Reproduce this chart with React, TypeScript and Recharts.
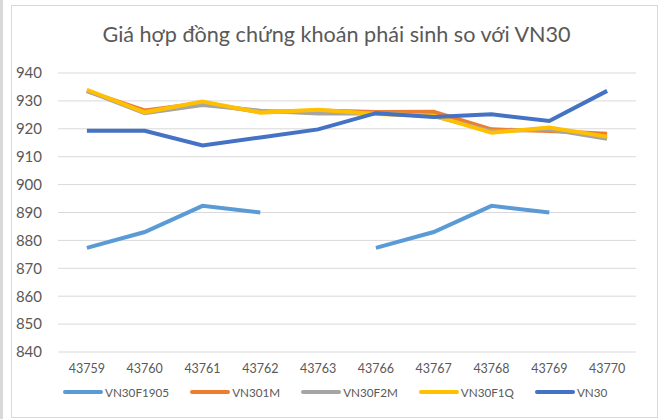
import { CartesianGrid, Legend, Line, LineChart, XAxis, YAxis } from 'recharts';

const dates = ['43759', '43760', '43761', '43762', '43763', '43766', '43767', '43768', '43769', '43770'];

const vn30f1905 = [877.3, 883, 892.4, 890, null, 877.3, 883, 892.4, 890, null];
const vn301m = [933.5, 926.6, 929.2, 926, 926.6, 926, 926.1, 919.8, 919.2, 918.2];
const vn30f2m = [933.6, 925.6, 928.5, 926.5, 925.5, 925.5, 924.6, 919.1, 919.8, 916.4];
const vn30f1q = [934, 925.9, 929.8, 925.8, 926.8, 925.3, 924.7, 918.6, 920.5, 917.2];
const vn30 = [919.3, 919.3, 914, 916.9, 919.8, 925.6, 924.2, 925.2, 922.8, 933.6];

const yTicks = [840, 850, 860, 870, 880, 890, 900, 910, 920, 930, 940];
const edgeTicks = [0, 1, 2, 3, 4, 5, 6, 7, 8, 9, 10];

const series = [
    { key: 'VN30F1905', color: '#5b9bd5' },
    { key: 'VN301M', color: '#ed7d31' },
    { key: 'VN30F2M', color: '#a5a5a5' },
    { key: 'VN30F1Q', color: '#ffc000' },
    { key: 'VN30', color: '#4472c4' },
];

const data = dates.map((d, i) => ({
    date: d,
    VN30F1905: vn30f1905[i],
    VN301M: vn301m[i],
    VN30F2M: vn30f2m[i],
    VN30F1Q: vn30f1q[i],
    VN30: vn30[i],
}));

const textColor = '#595959';
const font = 'Lato, "Noto Sans", sans-serif';

function LegendRow() {
    return (
        <div style={{ display: 'flex', alignItems: 'center', height: 20, paddingLeft: 50 }}>
            {series.map((s, i) => (
                <div key={s.key} style={{ display: 'flex', alignItems: 'center', marginRight: i < series.length - 1 ? 19 : 0 }}>
                    <svg width={42} height={8} style={{ marginRight: 2 }}>
                        <line x1={4} y1={4} x2={40} y2={4} stroke={s.color} strokeWidth={4} strokeLinecap="round" />
                    </svg>
                    <span style={{ fontFamily: font, fontSize: 11.7, color: textColor }}>{s.key}</span>
                </div>
            ))}
        </div>
    );
}

export default function App() {
    return (
        <div style={{ position: 'absolute', left: 0, top: 0, width: 659, height: 419, background: '#fff' }}>
            <div style={{ position: 'absolute', left: 0, top: 0, width: 3, height: 419, background: '#d9d9d9' }} />
            <div
                style={{
                    position: 'absolute',
                    left: 11,
                    top: 5,
                    width: 645,
                    height: 411,
                    border: '1px solid #d9d9d9',
                }}
            />
            <div
                style={{
                    position: 'absolute',
                    left: 0,
                    top: 20,
                    width: 673,
                    textAlign: 'center',
                    fontFamily: font,
                    fontSize: 21.6,
                    lineHeight: '28px',
                    color: textColor,
                }}
            >
                Giá hợp đồng chứng khoán phái sinh so với VN30
            </div>
            <div style={{ position: 'absolute', left: 0, top: 0 }}>
                <LineChart width={659} height={419} data={data} margin={{ top: 73, right: 23, bottom: 17, left: 11 }}>
                    <CartesianGrid vertical={false} stroke="#d9d9d9" />
                    <XAxis
                        xAxisId="edges"
                        type="number"
                        domain={[0, 10]}
                        ticks={edgeTicks}
                        height={0}
                        tickFormatter={() => ''}
                        stroke="#d9d9d9"
                        tickSize={5}
                    />
                    <XAxis
                        xAxisId="cat"
                        dataKey="date"
                        scale="band"
                        height={30}
                        axisLine={false}
                        tickLine={false}
                        tickSize={0}
                        tickMargin={12}
                        tick={{ fill: textColor, fontSize: 12.5, fontFamily: font }}
                    />
                    <YAxis
                        width={47}
                        domain={[840, 940]}
                        ticks={yTicks}
                        axisLine={false}
                        tickLine={false}
                        tickSize={0}
                        tickMargin={16}
                        tick={{ fill: textColor, fontSize: 15, fontFamily: font }}
                    />
                    <Legend verticalAlign="bottom" content={() => <LegendRow />} />
                    {series.map((s) => (
                        <Line
                            key={s.key}
                            xAxisId="cat"
                            dataKey={s.key}
                            stroke={s.color}
                            strokeWidth={4}
                            dot={false}
                            activeDot={false}
                            type="linear"
                            isAnimationActive={false}
                        />
                    ))}
                </LineChart>
            </div>
        </div>
    );
}
